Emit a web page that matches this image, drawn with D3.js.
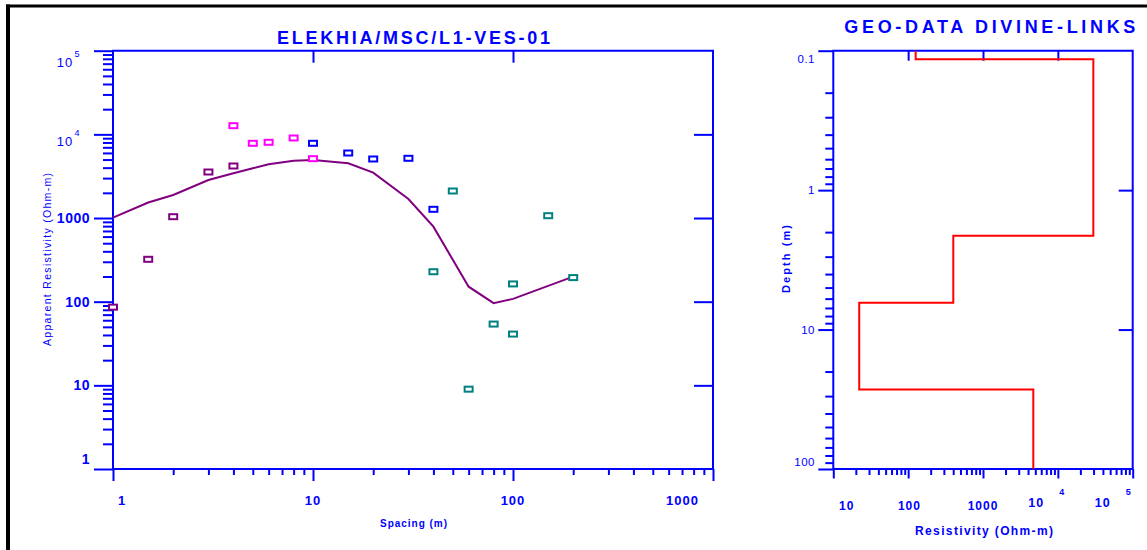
<!DOCTYPE html>
<html>
<head>
<meta charset="utf-8">
<script src="https://cdn.jsdelivr.net/npm/d3@7"></script>
<style>
  body { margin: 0; background: #fff; }
  text { font-family: Arial, "Liberation Sans", sans-serif; fill: #0000ff; }
</style>
</head>
<body>
<svg id="chart" width="1147" height="550"></svg>
<script>
// field readings, one array pair per survey segment (spacing m, apparent resistivity ohm-m)
const seg1Spacing = [1, 1.5, 2, 3, 4];
const seg1Rho = [86, 321, 1037, 3548, 4187];
const seg2Spacing = [4, 5, 6, 8, 10];
const seg2Rho = [12700, 7820, 8040, 9050, 5120];
const seg3Spacing = [10, 15, 20, 30, 40];
const seg3Rho = [7820, 5985, 5075, 5175, 1271];
const seg4Spacing = [40, 50, 60, 80, 100, 100, 150, 200];
const seg4Rho = [228, 2104, 9, 54, 163, 41, 1066, 194];

// computed model curve
const modelSpacing = [1, 1.5, 2, 3, 4, 5, 6, 8, 10, 15, 20, 30, 40, 60, 80, 100, 200];
const modelRho = [1009, 1534, 1884, 2846, 3425, 3929, 4388, 4845, 4940, 4508, 3483, 1688, 788, 151, 96, 108, 199];

// layered earth model (resistivity per layer, depth to bottom of each layer)
const layerRho = [126, 29800, 401, 22.2, 4700];
const layerBottom = [0.115, 2.12, 6.43, 26.9];

const spacingLabels = ["1", "10", "100", "1000"];
const rhoLabels = ["1", "10", "100", "1000", "10|4", "10|5"];
const depthLabels = ["0.1", "1", "10", "100"];
const resLabels = ["10", "100", "1000", "10|4", "10|5"];

const BLUE = "#0000ff";
const svg = d3.select("#chart");

// black frame bits
svg.append("rect").attr("x", 6).attr("y", 4.5).attr("width", 1141).attr("height", 3).attr("fill", "#000");
svg.append("rect").attr("x", 6).attr("y", 4.5).attr("width", 4).attr("height", 546).attr("fill", "#000");

const isDecade = v => Math.abs(Math.log10(v) - Math.round(Math.log10(v))) < 1e-6;

function tickSet(g, axis, at, vals, size) {
  g.append("g")
    .attr("transform", at)
    .call(axis.tickValues(vals).tickSize(size).tickSizeOuter(0).tickFormat(""))
    .call(a => a.select(".domain").remove())
    .selectAll("line").attr("stroke", BLUE).attr("stroke-width", 2);
}

function powLabel(g, txt, x, y, size, anchor, supDx, supDy, supSize, weight) {
  const parts = txt.split("|");
  g.append("text").attr("x", x).attr("y", y).attr("text-anchor", anchor)
    .attr("font-size", size).attr("font-weight", weight).attr("letter-spacing", 1).text(parts[0]);
  if (parts[1]) {
    g.append("text").attr("x", x + supDx).attr("y", y + supDy).attr("text-anchor", "middle")
      .attr("font-size", supSize).attr("font-weight", weight).text(parts[1]);
  }
}

// ---------------- left chart: sounding curve ----------------
const L = { left: 113, right: 713, top: 50.7, bottom: 469 };
const x = d3.scaleLog().domain([1, 1000]).range([L.left, L.right]);
const y = d3.scaleLog().domain([1, 1e5]).range([L.bottom, L.top]);
const gl = svg.append("g");

const xMaj = x.ticks().filter(isDecade), xMin = x.ticks().filter(v => !isDecade(v));
const yMaj = y.ticks().filter(isDecade), yMin = y.ticks().filter(v => !isDecade(v));

tickSet(gl, d3.axisLeft(y), `translate(${L.left},0)`, yMaj, 19);
tickSet(gl, d3.axisLeft(y), `translate(${L.left},0)`, yMin, 10);
tickSet(gl, d3.axisLeft(y), `translate(${L.right},0)`, yMaj.slice(1, -1), 19);
tickSet(gl, d3.axisBottom(x), `translate(0,${L.bottom})`, xMaj, 12);
tickSet(gl, d3.axisBottom(x), `translate(0,${L.bottom})`, xMin, 6);
tickSet(gl, d3.axisTop(x), `translate(0,${L.top})`, xMaj.slice(1, -1), -12);

gl.append("path")
  .attr("d", `M${L.left},${L.top}V${L.bottom}H${L.right}V${L.top}Z`)
  .attr("fill", "none").attr("stroke", BLUE).attr("stroke-width", 2);

// y tick labels
yMaj.forEach((v, i) => {
  const lab = rhoLabels[i];
  const yy = y(v);
  if (lab.includes("|")) {
    powLabel(gl, lab, 65, Math.max(yy + 12, 67), 13, "middle", 12, -10, 9, "normal");
  } else {
    const yc = i === 0 ? yy - 10 : yy;
    gl.append("text").attr("x", 90).attr("y", yc + 5).attr("text-anchor", "end")
      .attr("font-size", 14).attr("font-weight", "bold").attr("letter-spacing", 0.5).text(lab);
  }
});

// x tick labels
xMaj.forEach((v, i) => {
  const last = i === xMaj.length - 1;
  const anchor = i === 0 ? "start" : last ? "end" : "middle";
  const xx = i === 0 ? x(v) + 5 : last ? x(v) - 14 : x(v);
  gl.append("text").attr("x", xx).attr("y", 505).attr("text-anchor", anchor)
    .attr("font-size", 13).attr("font-weight", "bold").attr("letter-spacing", 1).text(spacingLabels[i]);
});

gl.append("text").attr("x", 413.5).attr("y", 41.5 + 1).attr("text-anchor", "middle")
  .attr("font-size", 18).attr("font-weight", "bold")
  .attr("textLength", 273).attr("lengthAdjust", "spacing")
  .attr("x", 277).attr("text-anchor", "start").attr("y", 43.5)
  .text("ELEKHIA/MSC/L1-VES-01");

gl.append("text").attr("x", 380).attr("y", 526.5)
  .attr("font-size", 10).attr("font-weight", "bold")
  .attr("textLength", 67).attr("lengthAdjust", "spacing").text("Spacing (m)");

gl.append("text").attr("transform", "translate(50.5,346) rotate(-90)")
  .attr("font-size", 10.5)
  .attr("textLength", 173).attr("lengthAdjust", "spacing").text("Apparent Resistivity (Ohm-m)");

// model curve
const modelLine = d3.line().x(d => x(d[0])).y(d => y(d[1]));
gl.append("path")
  .datum(d3.zip(modelSpacing, modelRho))
  .attr("d", modelLine)
  .attr("fill", "none").attr("stroke", "#800080").attr("stroke-width", 2);

// field points
const segments = [
  [seg1Spacing, seg1Rho, "#800080"],
  [seg2Spacing, seg2Rho, "#ff00ff"],
  [seg3Spacing, seg3Rho, "#0000ff"],
  [seg4Spacing, seg4Rho, "#008080"]
];
segments.forEach(([s, r, c]) => {
  gl.append("g").selectAll("rect")
    .data(d3.zip(s, r))
    .enter().append("rect")
      .attr("x", d => x(d[0]) - 4)
      .attr("y", d => y(d[1]) - 2.5)
      .attr("width", 8).attr("height", 5)
      .attr("fill", "#fff").attr("stroke", c).attr("stroke-width", 2);
});

// ---------------- right chart: layered model ----------------
const R = { left: 833.3, right: 1132.7, top: 50.7, bottom: 469 };
const rx = d3.scaleLog().domain([10, 1e5]).range([R.left, R.right]);
const ry = d3.scaleLog().domain([0.1, 100]).range([R.top, R.bottom]);
const gr = svg.append("g");

const rxMaj = rx.ticks().filter(isDecade), rxMin = rx.ticks().filter(v => !isDecade(v));
const ryMaj = ry.ticks().filter(isDecade), ryMin = ry.ticks().filter(v => !isDecade(v));

tickSet(gr, d3.axisLeft(ry), `translate(${R.left},0)`, ryMaj, 15);
tickSet(gr, d3.axisLeft(ry), `translate(${R.left},0)`, ryMin, 8);
tickSet(gr, d3.axisLeft(ry), `translate(${R.right},0)`, ryMaj.slice(1, -1), 14);
tickSet(gr, d3.axisBottom(rx), `translate(0,${R.bottom})`, rxMaj, 9.5);
tickSet(gr, d3.axisBottom(rx), `translate(0,${R.bottom})`, rxMin, 6);
tickSet(gr, d3.axisTop(rx), `translate(0,${R.top})`, rxMaj.slice(1, -1), -10);

gr.append("path")
  .attr("d", `M${R.left},${R.top}V${R.bottom}H${R.right}V${R.top}Z`)
  .attr("fill", "none").attr("stroke", BLUE).attr("stroke-width", 2);

ryMaj.forEach((v, i) => {
  let yc = ry(v);
  if (i === 0) yc += 8.6;
  if (i === ryMaj.length - 1) yc -= 7.3;
  gr.append("text").attr("x", 815).attr("y", yc + 4).attr("text-anchor", "end")
    .attr("font-size", 11.5).attr("letter-spacing", 0.5).text(depthLabels[i]);
});

const resNudge = [13.4, 1.3, 0, -21.7, -30];
rxMaj.forEach((v, i) => {
  const lab = resLabels[i];
  const xc = rx(v) + resNudge[i];
  if (lab.includes("|")) {
    powLabel(gr, lab, xc, 507, 12.5, "middle", 25.5, -12, 9, "bold");
  } else {
    gr.append("text").attr("x", xc).attr("y", 510).attr("text-anchor", "middle")
      .attr("font-size", 12).attr("font-weight", "bold").attr("letter-spacing", 1).text(lab);
  }
});

gr.append("text").attr("x", 844.3).attr("y", 33)
  .attr("font-size", 18).attr("font-weight", "bold")
  .attr("textLength", 291).attr("lengthAdjust", "spacing").text("GEO-DATA DIVINE-LINKS");

gr.append("text").attr("x", 915).attr("y", 535)
  .attr("font-size", 12).attr("font-weight", "bold")
  .attr("textLength", 138).attr("lengthAdjust", "spacing").text("Resistivity (Ohm-m)");

gr.append("text").attr("transform", "translate(790,293) rotate(-90)")
  .attr("font-size", 11).attr("font-weight", "bold")
  .attr("textLength", 68).attr("lengthAdjust", "spacing").text("Depth (m)");

// step profile from the layer arrays
const tops = [ry.domain()[0]].concat(layerBottom);
const bottoms = layerBottom.concat([ry.domain()[1]]);
const steps = [];
layerRho.forEach((r, i) => { steps.push([r, tops[i]]); steps.push([r, bottoms[i]]); });
gr.append("path")
  .datum(steps)
  .attr("d", d3.line().x(d => rx(d[0])).y(d => ry(d[1])))
  .attr("fill", "none").attr("stroke", "#ff0000").attr("stroke-width", 2);
</script>
</body>
</html>
